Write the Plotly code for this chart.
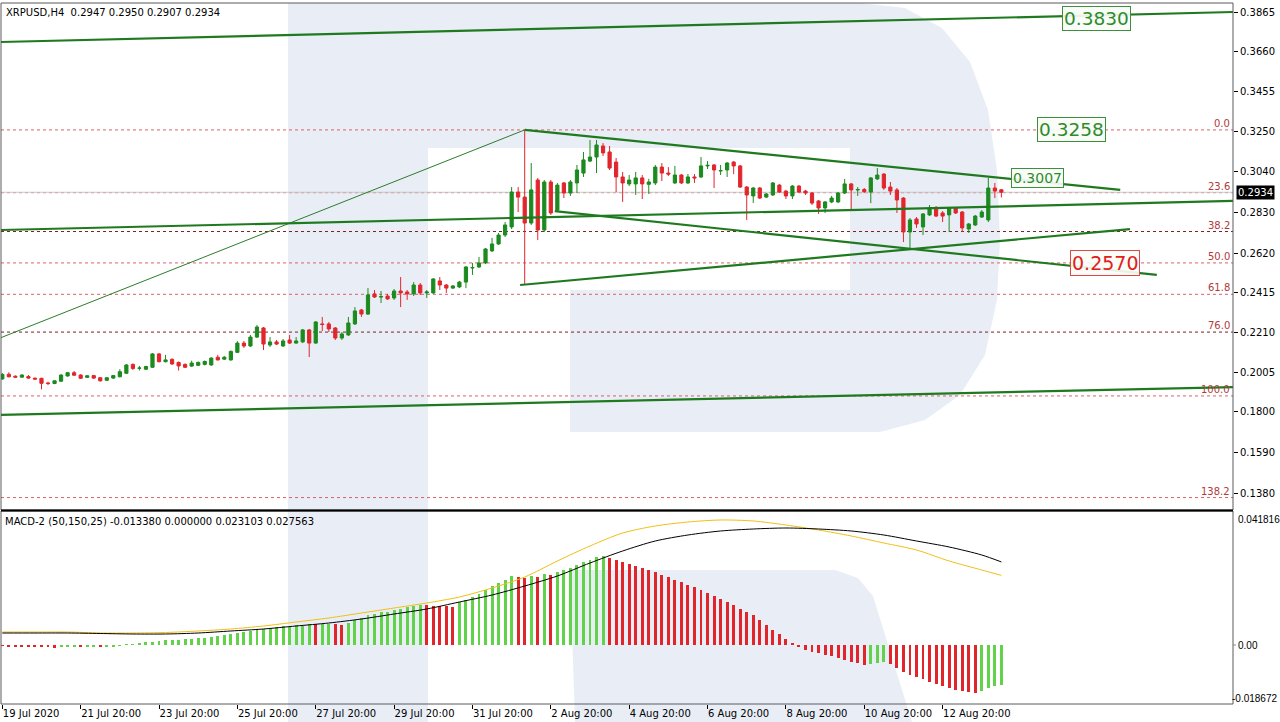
import plotly.graph_objects as go

# ---------------- DATA ----------------
tick_labels = ["19 Jul 2020", "21 Jul 20:00", "23 Jul 20:00", "25 Jul 20:00", "27 Jul 20:00",
               "29 Jul 20:00", "31 Jul 20:00", "2 Aug 20:00", "4 Aug 20:00", "6 Aug 20:00",
               "8 Aug 20:00", "10 Aug 20:00", "12 Aug 20:00"]
tick_bars = [0, 12, 24, 36, 48, 60, 72, 84, 96, 108, 120, 132, 144]

opens = [0.1970, 0.1994, 0.1984, 0.1979, 0.1982, 0.1974, 0.1973, 0.1949, 0.1946, 0.1958,
         0.1985, 0.2002, 0.1990, 0.1978, 0.1987, 0.1976, 0.1963, 0.1974, 0.1981, 0.1999,
         0.2045, 0.2025, 0.2020, 0.2030, 0.2099, 0.2059, 0.2071, 0.2055, 0.2045, 0.2036,
         0.2040, 0.2045, 0.2042, 0.2082, 0.2072, 0.2068, 0.2107, 0.2155, 0.2140, 0.2186,
         0.2233, 0.2145, 0.2161, 0.2140, 0.2171, 0.2155, 0.2161, 0.2223, 0.2155, 0.2254,
         0.2254, 0.2233, 0.2181, 0.2197, 0.2254, 0.2326, 0.2305, 0.2409, 0.2393, 0.2398,
         0.2388, 0.2424, 0.2419, 0.2409, 0.2455, 0.2414, 0.2414, 0.2476, 0.2455, 0.2439,
         0.2445, 0.2470, 0.2543, 0.2548, 0.2569, 0.2631, 0.2667, 0.2713, 0.2755, 0.2935,
         0.2909, 0.2775, 0.2997, 0.2739, 0.2987, 0.2842, 0.2982, 0.2930, 0.2982, 0.3033,
         0.3095, 0.3116, 0.3173, 0.3142, 0.3090, 0.3013, 0.2977, 0.2977, 0.3008, 0.2975,
         0.2982, 0.3064, 0.3033, 0.2982, 0.3023, 0.2982, 0.3013, 0.3013, 0.3070, 0.3075,
         0.3044, 0.3049, 0.3090, 0.3070, 0.2961, 0.2915, 0.2956, 0.2909, 0.2920, 0.2971,
         0.2940, 0.2915, 0.2966, 0.2940, 0.2930, 0.2889, 0.2853, 0.2884, 0.2884, 0.2930,
         0.2977, 0.2946, 0.2948, 0.2935, 0.3003, 0.3028, 0.2961, 0.2946, 0.2904, 0.2729,
         0.2796, 0.2755, 0.2817, 0.2853, 0.2827, 0.2817, 0.2853, 0.2832, 0.2744, 0.2765,
         0.2806, 0.2791, 0.2956, 0.2947]
highs = [0.2000, 0.2004, 0.1988, 0.1994, 0.1990, 0.1976, 0.1976, 0.1955, 0.1963, 0.1994,
         0.2006, 0.2011, 0.1994, 0.1990, 0.1991, 0.1979, 0.1979, 0.1990, 0.2020, 0.2046,
         0.2050, 0.2037, 0.2038, 0.2104, 0.2104, 0.2094, 0.2076, 0.2060, 0.2050, 0.2064,
         0.2060, 0.2065, 0.2083, 0.2094, 0.2088, 0.2117, 0.2165, 0.2166, 0.2197, 0.2248,
         0.2238, 0.2186, 0.2171, 0.2176, 0.2197, 0.2186, 0.2228, 0.2228, 0.2269, 0.2290,
         0.2264, 0.2238, 0.2212, 0.2290, 0.2341, 0.2331, 0.2439, 0.2429, 0.2424, 0.2409,
         0.2434, 0.2496, 0.2429, 0.2470, 0.2465, 0.2429, 0.2491, 0.2496, 0.2460, 0.2455,
         0.2476, 0.2553, 0.2569, 0.2600, 0.2646, 0.2698, 0.2724, 0.2780, 0.2961, 0.2961,
         0.3256, 0.3085, 0.3008, 0.2997, 0.2997, 0.2982, 0.2987, 0.2997, 0.3075, 0.3142,
         0.3204, 0.3204, 0.3188, 0.3173, 0.3111, 0.3039, 0.3023, 0.3039, 0.3023, 0.3003,
         0.3075, 0.3085, 0.3064, 0.3070, 0.3028, 0.3028, 0.3028, 0.3116, 0.3095, 0.3080,
         0.3075, 0.3090, 0.3095, 0.3075, 0.2966, 0.2961, 0.2961, 0.2930, 0.2987, 0.2977,
         0.2946, 0.2971, 0.2971, 0.2946, 0.2935, 0.2894, 0.2889, 0.2915, 0.2935, 0.3003,
         0.2982, 0.2961, 0.2956, 0.3013, 0.3059, 0.3033, 0.2987, 0.2956, 0.2909, 0.2801,
         0.2806, 0.2827, 0.2868, 0.2863, 0.2837, 0.2858, 0.2858, 0.2837, 0.2775, 0.2817,
         0.2842, 0.3008, 0.2982, 0.2950]
lows = [0.1965, 0.1978, 0.1976, 0.1976, 0.1971, 0.1966, 0.1916, 0.1938, 0.1943, 0.1955,
        0.1982, 0.1986, 0.1970, 0.1974, 0.1970, 0.1956, 0.1960, 0.1970, 0.1978, 0.1996,
        0.2016, 0.2013, 0.2016, 0.2027, 0.2055, 0.2055, 0.2043, 0.2013, 0.2026, 0.2032,
        0.2036, 0.2040, 0.2038, 0.2065, 0.2068, 0.2064, 0.2104, 0.2130, 0.2135, 0.2181,
        0.2119, 0.2135, 0.2145, 0.2135, 0.2150, 0.2152, 0.2155, 0.2083, 0.2152, 0.2217,
        0.2212, 0.2171, 0.2171, 0.2192, 0.2248, 0.2290, 0.2300, 0.2388, 0.2362, 0.2378,
        0.2378, 0.2341, 0.2378, 0.2398, 0.2403, 0.2388, 0.2409, 0.2429, 0.2414, 0.2434,
        0.2439, 0.2439, 0.2507, 0.2543, 0.2563, 0.2625, 0.2662, 0.2703, 0.2744, 0.2832,
        0.2455, 0.2765, 0.2687, 0.2729, 0.2817, 0.2832, 0.2904, 0.2915, 0.2930, 0.3013,
        0.3090, 0.3033, 0.3121, 0.3049, 0.2935, 0.2884, 0.2966, 0.2920, 0.2899, 0.2925,
        0.2971, 0.2992, 0.3018, 0.2977, 0.2977, 0.2977, 0.2982, 0.3008, 0.3054, 0.2956,
        0.3023, 0.3013, 0.3028, 0.2956, 0.2791, 0.2879, 0.2899, 0.2904, 0.2915, 0.2930,
        0.2899, 0.2899, 0.2930, 0.2920, 0.2868, 0.2822, 0.2827, 0.2878, 0.2878, 0.2925,
        0.2837, 0.2915, 0.2930, 0.2878, 0.2997, 0.2946, 0.2920, 0.2827, 0.2677, 0.2646,
        0.2750, 0.2713, 0.2811, 0.2806, 0.2780, 0.2729, 0.2822, 0.2729, 0.2724, 0.2760,
        0.2801, 0.2780, 0.2904, 0.2907]
closes = [0.1993, 0.1981, 0.1979, 0.1990, 0.1974, 0.1969, 0.1947, 0.1946, 0.1960, 0.1990,
          0.2002, 0.1989, 0.1973, 0.1986, 0.1974, 0.1960, 0.1976, 0.1987, 0.2007, 0.2042,
          0.2024, 0.2026, 0.2034, 0.2099, 0.2059, 0.2068, 0.2047, 0.2037, 0.2030, 0.2052,
          0.2055, 0.2060, 0.2077, 0.2068, 0.2082, 0.2112, 0.2155, 0.2140, 0.2186, 0.2238,
          0.2150, 0.2161, 0.2150, 0.2166, 0.2155, 0.2166, 0.2223, 0.2155, 0.2264, 0.2251,
          0.2228, 0.2181, 0.2202, 0.2259, 0.2321, 0.2305, 0.2403, 0.2393, 0.2395, 0.2383,
          0.2424, 0.2414, 0.2409, 0.2455, 0.2414, 0.2419, 0.2486, 0.2455, 0.2439, 0.2450,
          0.2470, 0.2548, 0.2545, 0.2569, 0.2641, 0.2667, 0.2713, 0.2765, 0.2935, 0.2909,
          0.2775, 0.2946, 0.2739, 0.2987, 0.2827, 0.2971, 0.2930, 0.2987, 0.3049, 0.3101,
          0.3116, 0.3178, 0.3137, 0.3059, 0.3013, 0.2982, 0.2997, 0.3008, 0.2977, 0.2987,
          0.3064, 0.3033, 0.3028, 0.3023, 0.2982, 0.3013, 0.3008, 0.3070, 0.3073, 0.3049,
          0.3046, 0.3085, 0.3070, 0.2961, 0.2920, 0.2956, 0.2904, 0.2925, 0.2982, 0.2935,
          0.2915, 0.2966, 0.2935, 0.2930, 0.2878, 0.2853, 0.2884, 0.2904, 0.2930, 0.2977,
          0.2946, 0.2948, 0.2937, 0.3008, 0.3023, 0.2956, 0.2940, 0.2894, 0.2729, 0.2791,
          0.2770, 0.2822, 0.2853, 0.2811, 0.2811, 0.2853, 0.2827, 0.2750, 0.2770, 0.2811,
          0.2832, 0.2956, 0.2940, 0.2934]

macd_hist = [-0.00030, -0.00038, -0.00045, -0.00052, -0.00060, -0.00066, -0.00075, -0.00082, -0.00086, -0.00080,
             -0.00072, -0.00068, -0.00070, -0.00062, -0.00060, -0.00064, -0.00050, -0.00035, -0.00015, 0.00010,
             0.00030, 0.00060, 0.00090, 0.00110, 0.00130, 0.00150, 0.00165, 0.00180, 0.00195, 0.00210,
             0.00230, 0.00248, 0.00268, 0.00300, 0.00330, 0.00365, 0.00400, 0.00430, 0.00480, 0.00530,
             0.00545, 0.00580, 0.00600, 0.00620, 0.00635, 0.00650, 0.00670, 0.00700, 0.00690, 0.00700,
             0.00710, 0.00695, 0.00680, 0.00740, 0.00830, 0.00880, 0.01000, 0.01040, 0.01080, 0.01100,
             0.01150, 0.01200, 0.01250, 0.01310, 0.01340, 0.01320, 0.01300, 0.01290, 0.01280, 0.01270,
             0.01420, 0.01500, 0.01590, 0.01700, 0.01830, 0.01950, 0.02060, 0.02170, 0.02290, 0.02260,
             0.02220, 0.02290, 0.02260, 0.02360, 0.02320, 0.02420, 0.02490, 0.02560, 0.02660, 0.02750,
             0.02820, 0.02920, 0.02950, 0.02890, 0.02820, 0.02760, 0.02700, 0.02620, 0.02560, 0.02490,
             0.02420, 0.02330, 0.02250, 0.02170, 0.02080, 0.02000, 0.01920, 0.01830, 0.01730, 0.01620,
             0.01520, 0.01420, 0.01320, 0.01210, 0.01100, 0.01000, 0.00830, 0.00660, 0.00500, 0.00350,
             0.00200, 0.00070, -0.00070, -0.00150, -0.00230, -0.00280, -0.00330, -0.00380, -0.00430, -0.00490,
             -0.00560, -0.00610, -0.00660, -0.00630, -0.00600, -0.00560, -0.00620, -0.00760, -0.00900, -0.00980,
             -0.01060, -0.01140, -0.01230, -0.01300, -0.01360, -0.01420, -0.01490, -0.01530, -0.01560, -0.01590,
             -0.01530, -0.01430, -0.01360, -0.013380]

macd_line_bars = [0, 5, 10, 15, 20, 25, 30, 35, 40, 45, 50, 55, 60, 65, 70, 75, 80, 85, 90, 95,
                  100, 105, 110, 115, 120, 125, 130, 135, 140, 145, 150, 153]
macd_black = [0.00398, 0.00398, 0.00398, 0.00382, 0.00365, 0.00365, 0.00398, 0.00465, 0.00531, 0.00631,
              0.00730, 0.00863, 0.01029, 0.01195, 0.01427, 0.01659, 0.01958, 0.02290, 0.02722, 0.03120,
              0.03452, 0.03651, 0.03784, 0.03850, 0.03883, 0.03850, 0.03784, 0.03651, 0.03452, 0.03253,
              0.02987, 0.027563]
macd_yellow = [0.00431, 0.00431, 0.00431, 0.00398, 0.00398, 0.00415, 0.00465, 0.00531, 0.00631, 0.00763,
               0.00896, 0.01062, 0.01228, 0.01394, 0.01593, 0.01892, 0.02257, 0.02788, 0.03286, 0.03717,
               0.03950, 0.04082, 0.04149, 0.04116, 0.03983, 0.03817, 0.03618, 0.03385, 0.03153, 0.02788,
               0.02489, 0.023103]

fib_high = 0.3256
fib_low = 0.1882
fib_levels = [0.0, 23.6, 38.2, 50.0, 61.8, 76.0, 100.0, 138.2]
fib_dark = [38.2, 76.0]

# trendlines: (bar0, price0, bar1, price1)
channel_lines = [(-0.35, 0.3710, 188.5, 0.3865),
                 (-0.35, 0.2739, 188.5, 0.2889),
                 (-0.35, 0.1784, 188.5, 0.1928)]
triangle_lines = [(80.0, 0.3256, 171.2, 0.2946),
                  (79.3, 0.2455, 172.7, 0.2744),
                  (84.6, 0.2837, 176.8, 0.2507)]
fib_base_line = (-0.35, 0.2181, 80.0, 0.3256)

level_texts = ["0.3830", "0.3258", "0.3007", "0.2570"]
level_prices = [0.3830, 0.3258, 0.3007, 0.2570]
level_bars = [167.6, 163.7, 158.5, 168.9]
level_kind = ["g", "g", "gs", "r"]

header = "XRPUSD,H4  0.2947 0.2950 0.2907 0.2934"
macd_header = "MACD-2 (50,150,25) -0.013380 0.000000 0.023103 0.027563"
price_ticks = [0.3865, 0.3660, 0.3455, 0.3250, 0.3040, 0.2830, 0.2620, 0.2415, 0.2210, 0.2005,
               0.1800, 0.1590, 0.1380]
macd_ticks = [0.041816, 0.0, -0.018672]
macd_tick_text = ["0.041816", "0.00", "-0.018672"]
last_price = 0.2934

# ---------------- LAYOUT GEOMETRY ----------------
W, H = 1280, 722
ML, MR, MT, MB = 1, 47, 3, 18
PW, PH = W - ML - MR, H - MT - MB


def pxx(x):
    return (x - ML) / PW


def pxy(y):
    return (H - MB - y) / PH


main_dom = [pxy(510), 1.0]
macd_dom = [0.0, pxy(511)]
FONT = "DejaVu Sans"
GREEN = "#1c8a1f"
RED = "#e2262d"
LINE_G = "#1f7a1f"

bars = list(range(len(opens)))
fig = go.Figure()

fig.add_trace(go.Candlestick(
    x=bars, open=opens, high=highs, low=lows, close=closes,
    increasing=dict(line=dict(color=GREEN, width=1), fillcolor=GREEN),
    decreasing=dict(line=dict(color=RED, width=1), fillcolor=RED),
    whiskerwidth=0, xaxis="x", yaxis="y", showlegend=False, hoverinfo="skip"))

fig.add_trace(go.Scatter(x=[fib_base_line[0], fib_base_line[2]], y=[fib_base_line[1], fib_base_line[3]],
                         mode="lines", line=dict(color="#2a7d2a", width=1), xaxis="x", yaxis="y",
                         showlegend=False, hoverinfo="skip"))
for (b0, p0, b1, p1) in channel_lines + triangle_lines:
    fig.add_trace(go.Scatter(x=[b0, b1], y=[p0, p1], mode="lines",
                             line=dict(color=LINE_G, width=2.2), xaxis="x", yaxis="y",
                             showlegend=False, hoverinfo="skip"))

hist_colors = []
for i, v in enumerate(macd_hist):
    prev = macd_hist[i - 1] if i > 0 else v
    hist_colors.append("#62d24a" if v > prev else "#e0262b")
fig.add_trace(go.Bar(x=bars, y=macd_hist, marker=dict(color=hist_colors, line=dict(width=0)),
                     width=0.45, xaxis="x2", yaxis="y2", showlegend=False, hoverinfo="skip"))
fig.add_trace(go.Scatter(x=macd_line_bars, y=macd_yellow, mode="lines",
                         line=dict(color="#f0c010", width=1, shape="spline", smoothing=0.8),
                         xaxis="x2", yaxis="y2", showlegend=False, hoverinfo="skip"))
fig.add_trace(go.Scatter(x=macd_line_bars, y=macd_black, mode="lines",
                         line=dict(color="#000000", width=1, shape="spline", smoothing=0.8),
                         xaxis="x2", yaxis="y2", showlegend=False, hoverinfo="skip"))

shapes = []
WM = "#e9eef6"


def path(points):
    return "M " + " L ".join(f"{pxx(x):.5f},{pxy(y):.5f}" for x, y in points) + " Z"


# watermark "R"
shapes.append(dict(type="path", xref="paper", yref="paper", layer="below", line=dict(width=0),
                   fillcolor=WM, path=path([(288, 3), (428, 3), (428, 722), (288, 722)])))
bowl_pts = [(428, 3), (860, 3), (905, 8), (942, 28), (970, 62), (988, 110), (997, 170), (1000, 240),
            (997, 300), (985, 355), (960, 395), (925, 420), (880, 432), (570, 432), (570, 290),
            (850, 290), (850, 148), (428, 148)]
shapes.append(dict(type="path", xref="paper", yref="paper", layer="below", line=dict(width=0),
                   fillcolor=WM, path=path(bowl_pts)))
leg_pts = [(570, 570), (835, 570), (858, 578), (873, 596), (912, 722), (575, 722)]
shapes.append(dict(type="path", xref="paper", yref="paper", layer="below", line=dict(width=0),
                   fillcolor=WM, path=path(leg_pts)))

for lv in fib_levels:
    price = fib_high - (fib_high - fib_low) * lv / 100.0
    col = "#7a2020" if lv in fib_dark else "#d9606a"
    shapes.append(dict(type="line", xref="paper", yref="y", x0=0, x1=1, y0=price, y1=price,
                       line=dict(color=col, width=1, dash="3px,3px"), layer="below"))
shapes.append(dict(type="line", xref="paper", yref="y", x0=0, x1=1, y0=last_price, y1=last_price,
                   line=dict(color="#c8c8c8", width=1), layer="below"))
shapes.append(dict(type="rect", xref="paper", yref="paper", x0=0, x1=1, y0=main_dom[0], y1=1,
                   line=dict(color="#5a5a5a", width=1)))
shapes.append(dict(type="rect", xref="paper", yref="paper", x0=0, x1=1, y0=0, y1=macd_dom[1],
                   line=dict(color="#5a5a5a", width=1)))
shapes.append(dict(type="line", xref="paper", yref="paper", x0=0, x1=1, y0=pxy(510.5), y1=pxy(510.5),
                   line=dict(color="#000000", width=2)))
# small tick at MACD zero
shapes.append(dict(type="line", xref="paper", yref="y2", x0=1, x1=pxx(1236), y0=0, y1=0,
                   line=dict(color="#888888", width=1)))

annotations = []
for lv in fib_levels:
    price = fib_high - (fib_high - fib_low) * lv / 100.0
    annotations.append(dict(text=f"{lv:.1f}", xref="paper", yref="y", x=1, y=price,
                            xanchor="right", yanchor="bottom", showarrow=False, xshift=-1, yshift=-1,
                            font=dict(family=FONT, size=10, color="#b03a3a")))
for t, p, b, k in zip(level_texts, level_prices, level_bars, level_kind):
    if k == "r":
        fnt = dict(family=FONT, size=19, color="#e02020")
        bc = "#e04848"
    elif k == "gs":
        fnt = dict(family=FONT, size=14, color="#2c8c2c")
        bc = "#3d8f3d"
    else:
        fnt = dict(family=FONT, size=18.5, color="#2c8c2c")
        bc = "#3d8f3d"
    annotations.append(dict(text=t, x=b, y=p, xref="x", yref="y", showarrow=False,
                            xanchor="center", yanchor="middle", font=fnt,
                            bgcolor="rgba(248,252,246,0.92)", bordercolor=bc, borderwidth=1, borderpad=1))
annotations.append(dict(text=header, xref="paper", yref="paper", x=pxx(4), y=pxy(12),
                        xanchor="left", yanchor="middle", showarrow=False,
                        font=dict(family=FONT, size=10, color="#000000")))
annotations.append(dict(text=macd_header, xref="paper", yref="paper", x=pxx(3), y=pxy(521),
                        xanchor="left", yanchor="middle", showarrow=False,
                        font=dict(family=FONT, size=10, color="#000000")))
annotations.append(dict(text=f"{last_price:.4f}", xref="paper", yref="y", x=1, y=last_price,
                        xanchor="left", yanchor="middle", showarrow=False, xshift=3,
                        bgcolor="#000000", borderpad=1,
                        font=dict(family=FONT, size=10, color="#ffffff")))
# MACD scale labels (drawn as text so the widest one still fits inside the page)
for v, t in zip(macd_ticks, macd_tick_text):
    if v < 0:
        annotations.append(dict(text=t, xref="paper", yref="y2", x=pxx(1279), y=v,
                                xanchor="right", yanchor="middle", showarrow=False, yshift=3,
                                font=dict(family="Liberation Sans", size=10, color="#000000")))
    else:
        annotations.append(dict(text=t, xref="paper", yref="y2", x=pxx(1236), y=v,
                                xanchor="left", yanchor="middle", showarrow=False,
                                font=dict(family="Liberation Sans", size=10, color="#000000")))

xr = [-0.2, 188.47]
p_top = 0.3927 - 0.0005165 * 3
p_bot = 0.3927 - 0.0005165 * 510
m_top = (645 - 511) / 3013
m_bot = (645 - 704) / 3013

fig.update_layout(
    width=W, height=H, autosize=False,
    margin=dict(l=ML, r=MR, t=MT, b=MB, pad=0, autoexpand=False),
    paper_bgcolor="#ffffff", plot_bgcolor="rgba(0,0,0,0)",
    showlegend=False, bargap=0,
    font=dict(family=FONT, size=10, color="#000000"),
    xaxis=dict(domain=[0, 1], anchor="y", range=xr, showticklabels=False, showgrid=False,
               zeroline=False, rangeslider=dict(visible=False), ticks="", automargin=False),
    yaxis=dict(domain=main_dom, anchor="x", side="right", range=[p_bot, p_top],
               tickvals=price_ticks, ticktext=[f"{v:.4f}" for v in price_ticks],
               ticks="outside", ticklen=4, tickcolor="#000000", showgrid=False, zeroline=False,
               automargin=False, tickfont=dict(family=FONT, size=10, color="#000000")),
    xaxis2=dict(domain=[0, 1], anchor="y2", range=xr, matches="x", showgrid=False, zeroline=False,
                tickvals=tick_bars, ticktext=tick_labels, ticks="outside", ticklen=4,
                tickcolor="#000000", ticklabelposition="outside right", automargin=False,
                tickfont=dict(family=FONT, size=10, color="#000000")),
    yaxis2=dict(domain=macd_dom, anchor="x2", side="right", range=[m_bot, m_top],
                showticklabels=False, ticks="", showgrid=False, zeroline=False, automargin=False),
    shapes=shapes, annotations=annotations,
)

fig.write_html("out.html")
